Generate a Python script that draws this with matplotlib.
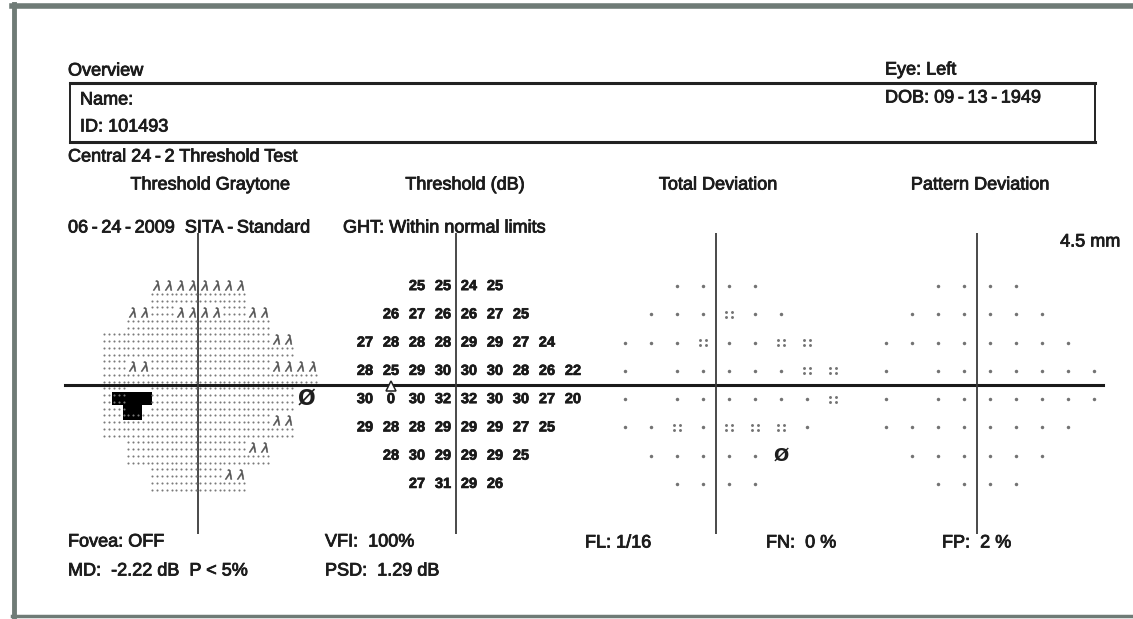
import numpy as np
import matplotlib.pyplot as plt
import matplotlib.patheffects as pe
from matplotlib.patches import Rectangle

plt.rcParams['font.family'] = ['Liberation Sans', 'DejaVu Sans']

# 24-2 test grid, left eye. one list per row, top row first
row_y = [21, 15, 9, 3, -3, -9, -15, -21]
row_x0 = [-9, -15, -21, -21, -21, -21, -15, -9]
blind_spot = (-15, -3)

threshold = [
    [25, 25, 24, 25],
    [26, 27, 26, 26, 27, 25],
    [27, 28, 28, 28, 29, 29, 27, 24],
    [28, 25, 29, 30, 30, 30, 28, 26, 22],
    [30, 0, 30, 32, 32, 30, 30, 27, 20],
    [29, 28, 28, 29, 29, 29, 27, 25],
    [28, 30, 29, 29, 29, 25],
    [27, 31, 29, 26],
]
# '.' normal, ':' p<5%, 'x' p<2%, ' ' not shown
total_dev = ["....", "...:..", "...:..::", ". .....::", ". ......:",
             "..:.:::.", ".....x", "...."]
pattern_dev = ["....", "......", "........", ". .......", ". .......",
               "........", "......", "...."]

ts = "\u2009"  # thin space, the printer font spaces its hyphens out
header_left = ["Name:", "ID: 101493"]
header_right = ["Eye: Left", f"DOB: 09{ts}-{ts}13{ts}-{ts}1949"]
test_name = f"Central 24{ts}-{ts}2 Threshold Test"
test_date = f"06{ts}-{ts}24{ts}-{ts}2009  SITA{ts}-{ts}Standard"
ght = "GHT: Within normal limits"
titles = ["Threshold Graytone", "Threshold (dB)", "Total Deviation", "Pattern Deviation"]
footer = [["Fovea: OFF", "MD:  -2.22 dB  P < 5%"], ["VFI:  100%", "PSD:  1.29 dB"]]
footer_right = ["FL: 1/16", "FN:  0 %", "FP:  2 %"]


def points(rows):
    out = []
    for r, vals in enumerate(rows):
        for k, v in enumerate(vals):
            out.append((row_x0[r] + 6 * k, row_y[r], v))
    return out


W, H = 1133, 619
CY = 385
fig = plt.figure(figsize=(W / 100, H / 100), dpi=100)
bg = fig.add_axes([0, 0, 1, 1])
bg.set_xlim(0, W)
bg.set_ylim(H, 0)
bg.axis('off')

ink = '#1c1c1c'
thick = [pe.withStroke(linewidth=0.6, foreground=ink)]


def label(x, y, s, **kw):
    kw.setdefault('va', 'center')
    bg.text(x, y, s, fontsize=13, color=ink, path_effects=thick, **kw)


# page frame
frame = '#6f7b76'
bg.plot([12, W], [5.5, 5.5], color=frame, lw=4)
bg.plot([14, 14], [4, 617], color=frame, lw=3.5)
bg.plot([12, W], [616, 616], color=frame, lw=2.5)

# header
label(68, 71, "Overview")
bg.add_patch(Rectangle((70, 83), 1025, 59, fill=False, lw=1.4, ec='#222'))
bg.plot([70, 1095], [83, 83], color='#222', lw=2.2)
bg.plot([70, 1095], [142, 142], color='#222', lw=2.2)
for i, t in enumerate(header_left):
    label(80, 100 + 27 * i, t)
for i, t in enumerate(header_right):
    label(885, 70 + 28 * i, t)
label(68, 157, test_name)
for cx, t in zip([210, 465, 718, 980], titles):
    label(cx, 185, t, ha='center')
label(68, 228, test_date)
label(343, 228, ght)
label(1120, 242, "4.5 mm", ha='right')

# footer
for x, col in zip([68, 325], footer):
    for i, t in enumerate(col):
        label(x, 542 + 29 * i, t)
for x, t in zip([585, 766, 942], footer_right):
    label(x, 543, t)

# long horizontal axis through all four plots
bg.plot([65, 1103], [CY, CY], color='#1a1a1a', lw=2.2)


def panel(cx, sx, sy, top=233, bottom=534):
    ax = fig.add_axes([(cx - 30 * sx) / W, (H - bottom) / H, 60 * sx / W, (bottom - top) / H])
    ax.set_xlim(-30, 30)
    ax.set_ylim((CY - bottom) / sy, (CY - top) / sy)
    ax.axis('off')
    ax.patch.set_alpha(0)
    ax.axvline(0, color='#3a3a3a', lw=1.3)
    return ax


# graytone
ax = panel(198, 4.0, 4.5)
dx = [-2.5, -1.25, 0, 1.25, 2.5]
dy = [-2.25, -0.75, 0.75, 2.25]
dots_x, dots_y, chev_x, chev_y = [], [], [], []
for x, y, v in points(threshold):
    if v == 0:
        ax.add_patch(Rectangle((x - 6.5, y - 1.5), 10, 3, color='black', lw=0))
        ax.add_patch(Rectangle((x - 3.75, y - 4.7), 4.75, 3.3, color='black', lw=0))
    elif v <= 21:
        ax.text(x, y, "Ø", fontsize=15, fontweight='bold', color='#1e1e1e',
                ha='center', va='center', family='DejaVu Sans')
    elif v <= 26:
        for ox in [-1.5, 1.5]:
            chev_x.append(x + ox)
            chev_y.append(y + 1.3)
        for ox in dx:
            for oy in dy[:2]:
                dots_x.append(x + ox)
                dots_y.append(y + oy)
    else:
        for ox in dx:
            for oy in dy:
                dots_x.append(x + ox)
                dots_y.append(y + oy)
ax.plot(dots_x, dots_y, 'o', ms=1.5, color='#7a7a7a', mew=0)
ax.plot(chev_x, chev_y, ls='none', marker='$\\lambda$', ms=7, color='#555', mew=0.4)

# threshold values
ax = panel(456, 4.333, 4.71)
for x, y, v in points(threshold):
    ax.text(x, y, str(v), fontsize=10.5, fontweight='bold', color='#1a1a1a',
            ha='center', va='center',
            path_effects=[pe.withStroke(linewidth=0.5, foreground='#1a1a1a')])
ax.plot(blind_spot[0], -0.3, marker='^', ms=7, mfc='white', mec='#222', mew=1.1)


def deviation(ax, rows):
    single_x, single_y, quad_x, quad_y = [], [], [], []
    for x, y, s in points(rows):
        if s == '.':
            single_x.append(x)
            single_y.append(y)
        elif s == ':':
            for ox in [-0.6, 0.6]:
                for oy in [-0.55, 0.55]:
                    quad_x.append(x + ox)
                    quad_y.append(y + oy)
        elif s == 'x':
            ax.text(x, y, "Ø", fontsize=13, fontweight='bold', color='#1e1e1e',
                    ha='center', va='center', family='DejaVu Sans')
    ax.plot(single_x, single_y, 'o', ms=2.5, color='#737373', mew=0)
    ax.plot(quad_x, quad_y, 'o', ms=2.1, color='#737373', mew=0)


deviation(panel(716, 4.333, 4.71), total_dev)
deviation(panel(977, 4.333, 4.71), pattern_dev)

fig.savefig("out.png", dpi=100, facecolor='white')
